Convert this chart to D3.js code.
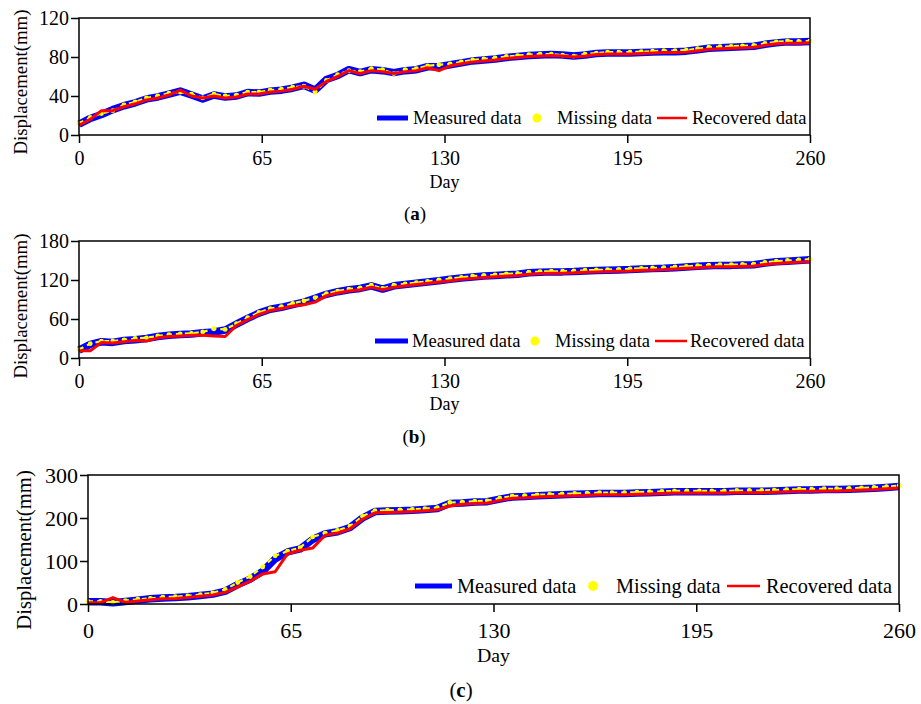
<!DOCTYPE html>
<html lang="en">
<head>
    <meta charset="utf-8">
    <script src="https://cdn.jsdelivr.net/npm/d3@7"></script>
    <style>
        body { margin: 0; background: #fff; }
        svg, svg text { font-family: 'Liberation Serif', 'Times New Roman', 'DejaVu Serif', serif !important; }
    </style>
</head>
<body>
<script>
    var w = 921, h = 704;
    var serif = "'Liberation Serif', 'Times New Roman', 'DejaVu Serif', serif";

    // day axis, one reading every 4 days
    var days = d3.range(0, 261, 4);
    var xTicks = [0, 65, 130, 195, 260];

    // (a)
    var measuredA = [11,17,21,26,30,33,37,39,42,45,41,37,41,39,40,43.5,43,45,46,48,51,46,57,61,
        67,64,67,66,64,66,67,70,70,72,74,76,77,78,79.5,80.5,81.5,82,82.5,82,81,82,83.5,84,84,84,
        84.5,85,85.5,85.5,86,87.5,89,89.5,90,90.5,91,93,94.5,95.5,95.5,96];
    var missingA = [12,18,22,25,31,34,38,40,43,44,42,38,42,40,41,44,44,46,47,49,50,44,56,62,
        66,65,68,67,63,67,68,71,72,73,75,77,78,79,80.5,81.5,82.5,83,83,82,81,83,84,85,85,85,
        85.5,86,86.5,86.5,87,88.5,90,90.5,91,91.5,92,94,95.5,96.5,96,96.5];
    var recoveredA = [10,16,25,25,29,32,36,38,41,46,40,38,40,38,39,42,42,44,45,47,50,47,55,60,
        66,63,66,65,63,65,66,69,66,71,73,75,76,77,78.5,79.5,80.5,81,81.5,81,80,81,82.5,83,83,83,
        83.5,84,84.5,84.5,85,86.5,88,88.5,89,89.5,90,92,93.5,94,94,94.5];

    // (b)
    var measuredB = [12,21,25,24,27,28,30,33,35,36,37,39,40,43,52,61,69,75,78,82,86,92,98,102,
        105,107,111,106,111,113,115,117,119,121,123,124.5,126,127,128,129,131,132,132.5,132.5,133,
        134,134.5,135,135.5,136,137,137.5,138,139,140,141,142,142.5,142.5,143,143.5,146,148,149,150,151];
    var missingB = [13,22,26,26,28,30,31,34,36,37,38,40,45,44,53,62,70,76,79,84,88,93,99,103,
        106,108,112,107,112,114,116,118,120,122,124,126,127,128,129.5,130,132,133,133.5,133.5,134,
        135,135.5,136,136.5,137,138,138.5,139,140,141,142,143,143.5,143.5,144,144.5,147,149,150,151,152];
    var recoveredB = [11,11,24,23,25,27,26,31,33,34,35,35,34,33,50,59,67,73,76,80,82,86,96,100,
        103,105,109,105,109,111,113,115,117,119,121,122.5,124,125,126,127,129,130,130.5,130.5,131,
        132,132.5,133,133.5,134,135,135.5,136,137,138,139,140,140.5,140.5,141,141.5,144,145.5,146.5,147.5,148];

    // (c)
    var measuredC = [5,5,3,6,9,12,14,15,17,20,23,30,45,58,76,105,121,128,150,163,168,178,200,215,
        216,217,218,220,222,234,235,237,238,244,249,250,252,253,254,255,256,257,257,257,258,259,
        260,261,261,261,261,261,262,262,262,263,264,265,265,266,266,267,268,269,271,273];
    var missingC = [6,6,4,8,11,13,16,17,19,22,26,34,50,64,86,112,123,131,156,165,171,181,204,217,
        218,219,220,222,224,236,237,239,240,246,251,252,254,255,256,257,258,259,259,259,260,261,
        262,263,263,263,263,263,264,264,264,265,266,267,267,268,268,269,270,271,273,275];
    var recoveredC = [3,3,15,4,7,10,12,13,15,18,21,27,40,53,70,75,117,125,130,160,165,175,197,212,
        213,214,215,217,219,228,232,234,235,241,246,247,249,250,251,252,253,254,254,254,255,256,
        257,258,258,258,258,258,259,259,259,260,261,262,262,263,263,264,265,266,268,270];

    var legendLabels = ['Measured data', 'Missing data', 'Recovered data'];

    var panels = [
        {measured: measuredA, missing: missingA, recovered: recoveredA, yMax: 120, yTicks: [0, 40, 80, 120],
         left: 79, right: 810, top: 18, bottom: 135, s: 1, tickY: 165, dayY: 188,
         cap: 'a', capX: 415, capY: 220, yLabY: 82,
         leg: {y: 118, l1: 377, l2: 408, t1: 413, dot: 537, t2: 557, r1: 657, r2: 687, t3: 692}},
        {measured: measuredB, missing: missingB, recovered: recoveredB, yMax: 180, yTicks: [0, 60, 120, 180],
         left: 79, right: 810, top: 241, bottom: 358, s: 1, tickY: 388, dayY: 410,
         cap: 'b', capX: 414, capY: 443, yLabY: 306,
         leg: {y: 341, l1: 375, l2: 408, t1: 412, dot: 535, t2: 555, r1: 655, r2: 687, t3: 690}},
        {measured: measuredC, missing: missingC, recovered: recoveredC, yMax: 300, yTicks: [0, 100, 200, 300],
         left: 88, right: 899, top: 475, bottom: 604, s: 1.1, tickY: 638, dayY: 662,
         cap: 'c', capX: 461, capY: 697, yLabY: 550,
         leg: {y: 586, l1: 415, l2: 452, t1: 457, dot: 593, t2: 616, r1: 727, r2: 760, t3: 766}}
    ];

    var svg = d3.select('body').append('svg').attr('width', w).attr('height', h)
        .attr('font-family', serif);

    panels.forEach(function(p) {
        var x = d3.scaleLinear().domain([0, 260]).range([p.left, p.right]);
        var y = d3.scaleLinear().domain([0, p.yMax]).range([p.bottom, p.top]);
        var g = svg.append('g');

        var line = function(vals) {
            return d3.line()
                .x(function(d, i) { return x(days[i]); })
                .y(function(d) { return y(d); })(vals);
        };

        // series
        g.append('path').attr('d', line(p.measured))
            .attr('fill', 'none').attr('stroke', '#0000ff').attr('stroke-width', 7.5)
            .attr('stroke-linejoin', 'round');
        g.append('path').attr('d', line(p.missing))
            .attr('fill', 'none').attr('stroke', '#ffff00').attr('stroke-width', 2.2)
            .attr('stroke-dasharray', '5,4');
        g.selectAll('circle.miss').data(p.missing).enter().append('circle')
            .attr('cx', function(d, i) { return x(days[i]); })
            .attr('cy', function(d) { return y(d); })
            .attr('r', 2.4).attr('fill', '#ffff00');
        g.append('path').attr('d', line(p.recovered))
            .attr('fill', 'none').attr('stroke', '#ff0000').attr('stroke-width', 3)
            .attr('stroke-linejoin', 'round');

        // frame
        g.append('rect').attr('x', p.left).attr('y', p.top)
            .attr('width', p.right - p.left).attr('height', p.bottom - p.top)
            .attr('fill', 'none').attr('stroke', '#000').attr('stroke-width', 1.5);

        // x axis
        var xAxis = g.append('g').attr('transform', 'translate(0,' + p.bottom + ')')
            .call(d3.axisBottom(x).tickValues(xTicks).tickSize(8).tickFormat(d3.format('d')));
        xAxis.attr('font-family', serif);
        xAxis.select('.domain').remove();
        xAxis.selectAll('line').attr('stroke', '#000').attr('stroke-width', 1.5);
        xAxis.selectAll('text').attr('font-size', 20 * p.s).attr('y', p.tickY - p.bottom).attr('dy', 0);

        // y axis
        var yAxis = g.append('g').attr('transform', 'translate(' + p.left + ',0)')
            .call(d3.axisLeft(y).tickValues(p.yTicks).tickSize(8).tickPadding(2));
        yAxis.attr('font-family', serif);
        yAxis.select('.domain').remove();
        yAxis.selectAll('line').attr('stroke', '#000').attr('stroke-width', 1.5);
        yAxis.selectAll('text').attr('font-size', 20 * p.s);

        // axis titles
        g.append('text').attr('x', (p.left + p.right) / 2).attr('y', p.dayY)
            .attr('text-anchor', 'middle').attr('font-size', 18 * p.s).text('Day');
        g.append('text')
            .attr('transform', 'translate(' + (p.left - 52 * p.s) + ',' + p.yLabY + ') rotate(-90)')
            .attr('text-anchor', 'middle').attr('font-size', 18.8 * p.s).text('Displacement(mm)');

        // caption
        var cap = g.append('text').attr('x', p.capX).attr('y', p.capY)
            .attr('text-anchor', 'middle').attr('font-size', 19 * p.s);
        cap.append('tspan').text('(');
        cap.append('tspan').attr('font-weight', 'bold').text(p.cap);
        cap.append('tspan').text(')');

        // legend
        var L = p.leg, fs = 18.5 * p.s;
        g.append('line').attr('x1', L.l1).attr('x2', L.l2).attr('y1', L.y).attr('y2', L.y)
            .attr('stroke', '#0000ff').attr('stroke-width', 5);
        g.append('circle').attr('cx', L.dot).attr('cy', L.y).attr('r', 4.5 * p.s).attr('fill', '#ffff00');
        g.append('line').attr('x1', L.r1).attr('x2', L.r2).attr('y1', L.y).attr('y2', L.y)
            .attr('stroke', '#ff0000').attr('stroke-width', 2.5);
        [L.t1, L.t2, L.t3].forEach(function(tx, i) {
            g.append('text').attr('x', tx).attr('y', L.y).attr('dy', '0.33em')
                .attr('font-size', fs).text(legendLabels[i]);
        });
    });
</script>
</body>
</html>
